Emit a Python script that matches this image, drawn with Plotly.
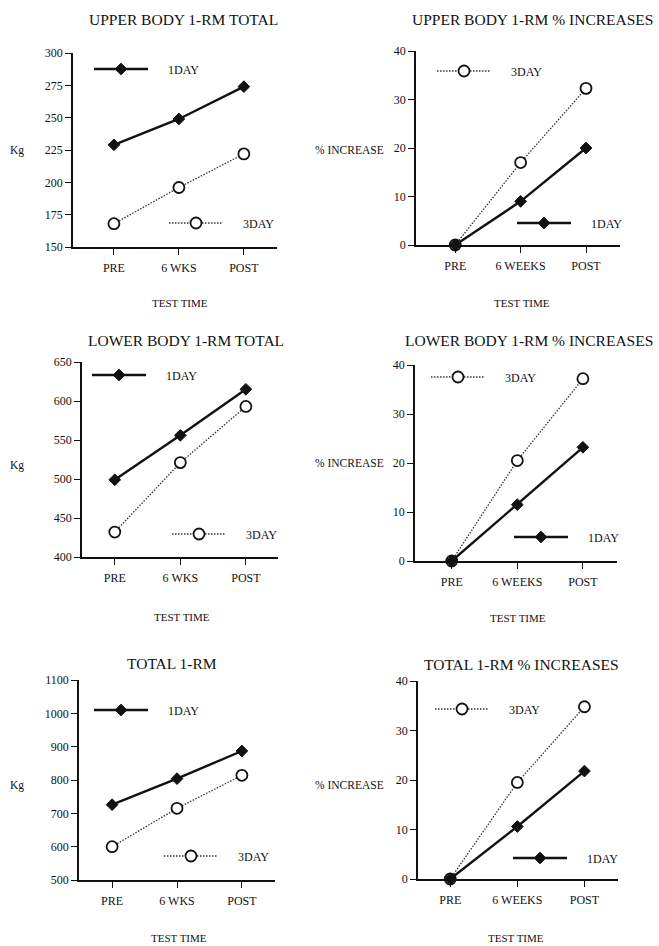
import plotly.graph_objects as go

W, H = 659, 946
FONT = "Liberation Serif"

# ---------------- data ----------------
x_pos = [0, 1, 2]
left_ticks = ["PRE", "6 WKS", "POST"]
right_ticks = ["PRE", "6 WEEKS", "POST"]

upper_total_1day = [229, 249, 274]
upper_total_3day = [168, 196, 222]
upper_pct_1day = [0, 9, 20]
upper_pct_3day = [0, 17, 32.3]
lower_total_1day = [499, 556, 615]
lower_total_3day = [432, 521, 593]
lower_pct_1day = [0, 11.5, 23.2]
lower_pct_3day = [0, 20.5, 37.2]
total_1day = [726, 804, 887]
total_3day = [600, 715, 814]
total_pct_1day = [0, 10.6, 21.8]
total_pct_3day = [0, 19.5, 34.8]

panels = [
    dict(title="UPPER BODY 1-RM TOTAL", ylab="Kg", ticks=left_ticks,
         d1=upper_total_1day, d3=upper_total_3day, yr=[150, 300], dt=25,
         box=(73, 277, 53, 247), xr=[-0.63, 2.51],
         tpos=(183, 19), ylpos=(17, 150), xlpos=(180, 303),
         leg1=(94, 69), leg3=(169, 223)),
    dict(title="UPPER BODY 1-RM % INCREASES", ylab="% INCREASE", ticks=right_ticks,
         d1=upper_pct_1day, d3=upper_pct_3day, yr=[0, 40], dt=10,
         box=(416, 620, 51, 245), xr=[-0.6, 2.52],
         tpos=(532, 19), ylpos=(349, 150), xlpos=(522, 303),
         leg1=(517, 223), leg3=(437, 71)),
    dict(title="LOWER BODY 1-RM TOTAL", ylab="Kg", ticks=left_ticks,
         d1=lower_total_1day, d3=lower_total_3day, yr=[400, 650], dt=50,
         box=(82, 278, 362, 557), xr=[-0.5, 2.49],
         tpos=(186, 340), ylpos=(17, 465), xlpos=(182, 617),
         leg1=(92, 375), leg3=(172, 534)),
    dict(title="LOWER BODY 1-RM % INCREASES", ylab="% INCREASE", ticks=right_ticks,
         d1=lower_pct_1day, d3=lower_pct_3day, yr=[0, 40], dt=10,
         box=(415, 617, 365, 561), xr=[-0.56, 2.52],
         tpos=(529, 340), ylpos=(349, 463), xlpos=(518, 618),
         leg1=(514, 537), leg3=(431, 377)),
    dict(title="TOTAL 1-RM", ylab="Kg", ticks=left_ticks,
         d1=total_1day, d3=total_3day, yr=[500, 1100], dt=100,
         box=(79, 275, 680, 880), xr=[-0.51, 2.51],
         tpos=(172, 663), ylpos=(17, 785), xlpos=(179, 938),
         leg1=(94, 710), leg3=(164, 856)),
    dict(title="TOTAL 1-RM % INCREASES", ylab="% INCREASE", ticks=right_ticks,
         d1=total_pct_1day, d3=total_pct_3day, yr=[0, 40], dt=10,
         box=(418, 618, 681, 879), xr=[-0.48, 2.5],
         tpos=(521, 664), ylpos=(349, 785), xlpos=(516, 938),
         leg1=(513, 858), leg3=(435, 709)),
]

fig = go.Figure()
annotations = []
layout = dict(
    width=W, height=H, margin=dict(l=0, r=0, t=0, b=0, pad=0, autoexpand=False),
    autosize=False,
    paper_bgcolor="white", plot_bgcolor="white",
    font=dict(family=FONT, size=11, color="#111"),
    showlegend=True,
)

def px(x):
    return x / W

def py(y):
    return 1 - y / H

GAP = "\u00a0" * 5
leg_idx = 0
for i, p in enumerate(panels):
    n = "" if i == 0 else str(i + 1)
    xa, ya = "x" + n, "y" + n
    x0, x1, y0, y1 = p["box"]
    layout["xaxis" + n] = dict(
        domain=[px(x0), px(x1)], range=p["xr"], anchor=ya, automargin=False,
        tickvals=x_pos, ticktext=p["ticks"], showgrid=False, zeroline=False,
        showline=True, linecolor="#111", linewidth=1.6,
        ticks="outside", ticklen=6, tickwidth=1.4, tickcolor="#111",
        ticklabelstandoff=3, tickfont=dict(size=12, color="#111"),
    )
    layout["yaxis" + n] = dict(
        domain=[py(y1), py(y0)], range=p["yr"], anchor=xa, dtick=p["dt"],
        automargin=False, showgrid=False, zeroline=False,
        showline=True, linecolor="#111", linewidth=1.6,
        ticks="outside", ticklen=6, tickwidth=1.4, tickcolor="#111",
        tickfont=dict(size=12, color="#111"),
    )
    for key, name, lpos in (("d3", "3DAY", p["leg3"]), ("d1", "1DAY", p["leg1"])):
        leg_idx += 1
        lname = "legend" if leg_idx == 1 else "legend%d" % leg_idx
        if key == "d1":
            line = dict(color="#111", width=2.4)
            marker = dict(symbol="diamond", size=9, color="#111",
                          line=dict(color="#111", width=1))
        else:
            line = dict(color="#333", width=1.3, dash="1.5px,1.5px")
            marker = dict(symbol="circle", size=11, color="white",
                          line=dict(color="#111", width=1.8))
        fig.add_trace(go.Scatter(
            x=x_pos, y=p[key], mode="lines+markers", name=GAP + name,
            line=line, marker=marker, xaxis=xa, yaxis=ya,
            legend=lname, cliponaxis=False, showlegend=True,
        ))
        layout[lname] = dict(
            x=px(lpos[0] - 5), y=py(lpos[1]), xanchor="left", yanchor="middle",
            xref="paper", yref="paper", bgcolor="rgba(0,0,0,0)",
            borderwidth=0, itemwidth=54, font=dict(family=FONT, size=12, color="#111"),
            itemclick=False, itemdoubleclick=False,
        )
    annotations.append(dict(text=p["title"], x=px(p["tpos"][0]), y=py(p["tpos"][1]),
                            xref="paper", yref="paper", showarrow=False,
                            xanchor="center", yanchor="middle",
                            font=dict(family=FONT, size=15.5, color="#111")))
    annotations.append(dict(text=p["ylab"], x=px(p["ylpos"][0]), y=py(p["ylpos"][1]),
                            xref="paper", yref="paper", showarrow=False,
                            xanchor="center", yanchor="middle",
                            font=dict(family=FONT, size=11.5, color="#111")))
    annotations.append(dict(text="TEST TIME", x=px(p["xlpos"][0]), y=py(p["xlpos"][1]),
                            xref="paper", yref="paper", showarrow=False,
                            xanchor="center", yanchor="middle",
                            font=dict(family=FONT, size=11, color="#111")))

layout["annotations"] = annotations
fig.update_layout(**layout)
fig.write_html("out.html",
               config={"displayModeBar": False, "responsive": False},
               post_script="document.body.style.margin='0px';"
                           "document.body.style.overflow='hidden';")
